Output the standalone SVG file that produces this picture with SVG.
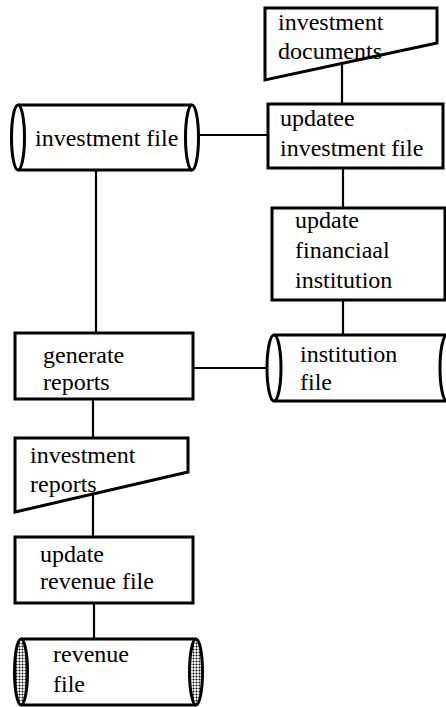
<svg xmlns="http://www.w3.org/2000/svg" width="446" height="707" viewBox="0 0 446 707">
<style>
.box{fill:#fff;stroke:#000;stroke-width:3}
.edge{fill:none;stroke:#000;stroke-width:3}
.ln{fill:none;stroke:#000;stroke-width:2.2}
.t{font-family:'Liberation Serif','DejaVu Serif','Times New Roman',serif;font-size:24px;fill:#000}
</style>
<defs>
<pattern id="dots" width="3" height="3" patternUnits="userSpaceOnUse">
<rect width="3" height="3" fill="#fff"/>
<circle cx="1.5" cy="1.5" r="1" fill="#000"/>
</pattern>
</defs>
<rect width="446" height="707" fill="#fff"/>
<g id="connectors">
<line class="ln" x1="342" y1="63" x2="342" y2="104"/>
<line class="ln" x1="198" y1="135" x2="268" y2="135"/>
<line class="ln" x1="343" y1="168" x2="343" y2="208"/>
<line class="ln" x1="343" y1="300" x2="343" y2="335"/>
<line class="ln" x1="96" y1="170" x2="96" y2="333"/>
<line class="ln" x1="193" y1="368" x2="267" y2="368"/>
<line class="ln" x1="93" y1="399" x2="93" y2="438"/>
<line class="ln" x1="93" y1="494" x2="93" y2="537"/>
<line class="ln" x1="94" y1="603" x2="94" y2="639"/>
</g>
<g id="investment-documents">
<path class="box" d="M265,8 L437,8 L437,43 L265,80 Z"/>
<text class="t" x="278" y="30">investment</text>
<text class="t" x="278" y="59">documents</text>
</g>
<g id="investment-file">
<line class="edge" x1="18" y1="105" x2="192" y2="105"/>
<line class="edge" x1="18" y1="170" x2="192" y2="170"/>
<ellipse class="box" cx="18" cy="137.5" rx="6.5" ry="32.5"/>
<ellipse class="box" cx="192" cy="137.5" rx="6.5" ry="32.5"/>
<text class="t" x="35" y="146">investment file</text>
</g>
<g id="updatee-investment-file">
<rect class="box" x="268" y="104" width="175" height="64"/>
<text class="t" x="280" y="126">updatee</text>
<text class="t" x="280" y="156">investment file</text>
</g>
<g id="update-financiaal-institution">
<rect class="box" x="272" y="208" width="173" height="92"/>
<text class="t" x="295" y="228">update</text>
<text class="t" x="295" y="258">financiaal</text>
<text class="t" x="295" y="288">institution</text>
</g>
<g id="institution-file">
<rect x="274" y="335" width="173" height="66" fill="#fff"/>
<line class="edge" x1="274" y1="335" x2="447" y2="335"/>
<line class="edge" x1="274" y1="401" x2="447" y2="401"/>
<ellipse class="box" cx="274" cy="368" rx="7" ry="33"/>
<ellipse class="box" cx="447" cy="368" rx="7" ry="33"/>
<text class="t" x="300" y="362">institution</text>
<text class="t" x="300" y="390">file</text>
</g>
<g id="generate-reports">
<rect class="box" x="15" y="333" width="178" height="66"/>
<text class="t" x="43" y="363">generate</text>
<text class="t" x="43" y="390">reports</text>
</g>
<g id="investment-reports">
<path class="box" d="M15,438 L188,438 L188,472 L15,512 Z"/>
<text class="t" x="30" y="463">investment</text>
<text class="t" x="30" y="492">reports</text>
</g>
<g id="update-revenue-file">
<rect class="box" x="15" y="537" width="178" height="66"/>
<text class="t" x="40" y="562">update</text>
<text class="t" x="40" y="589">revenue file</text>
</g>
<g id="revenue-file">
<rect x="21" y="639" width="175" height="66" fill="#fff"/>
<line class="edge" x1="21" y1="639" x2="196" y2="639"/>
<line class="edge" x1="21" y1="705" x2="196" y2="705"/>
<ellipse cx="21" cy="672" rx="6.5" ry="33" fill="url(#dots)" stroke="#000" stroke-width="3"/>
<ellipse cx="196" cy="672" rx="6.5" ry="33" fill="url(#dots)" stroke="#000" stroke-width="3"/>
<text class="t" x="53" y="662">revenue</text>
<text class="t" x="53" y="692">file</text>
</g>
</svg>
